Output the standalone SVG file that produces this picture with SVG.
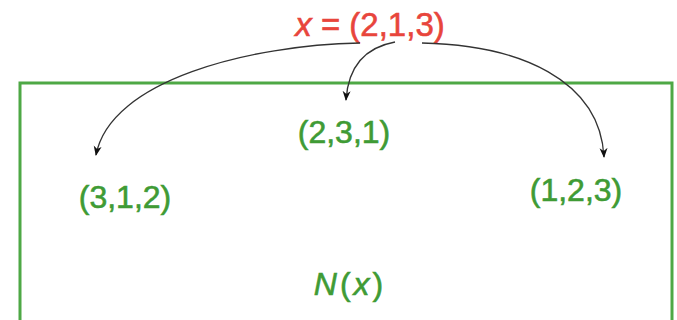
<svg xmlns="http://www.w3.org/2000/svg" width="677" height="320" viewBox="0 0 677 320">
<defs>
<style>
.g{fill:#3f9b35;stroke:#3f9b35;stroke-width:0.6;font-family:"Liberation Sans",Arial,sans-serif;font-size:32px;text-anchor:middle}
.r{fill:#e8453c;stroke:#e8453c;stroke-width:0.6;font-family:"Liberation Sans",Arial,sans-serif;font-size:33px;text-anchor:middle}
.e{fill:none;stroke:#333;stroke-width:1.3;marker-end:url(#ah)}
</style>
<marker id="ah" viewBox="0 0 10 10" refX="9" refY="5" markerWidth="10" markerHeight="10" markerUnits="userSpaceOnUse" orient="auto">
<path d="M0,1 L10,5 L0,9 L3,5 Z" fill="#111"/>
</marker>
</defs>
<rect width="677" height="320" fill="#fff"/>
<g id="box"><rect x="20" y="83" width="652" height="245" fill="none" stroke="#4ea845" stroke-width="3"/></g>
<g id="x"><text class="r" x="370" y="36"><tspan font-style="italic">x</tspan> = (2,1,3)</text></g>
<g id="n231"><text class="g" x="344" y="143">(2,3,1)</text></g>
<g id="n312"><text class="g" x="125" y="208">(3,1,2)</text></g>
<g id="n123"><text class="g" x="576" y="201">(1,2,3)</text></g>
<g id="N"><text class="g" x="350" y="295" font-size="37" letter-spacing="3"><tspan font-style="italic">N</tspan>(<tspan font-style="italic">x</tspan>)</text></g>
<g id="edges">
<path class="e" d="M360 43 C250 45,110 80,96 155"/>
<path class="e" d="M395 42 C362 48,348 70,346 100"/>
<path class="e" d="M422 43 C520 45,600 80,604 157"/>
</g>
</svg>
